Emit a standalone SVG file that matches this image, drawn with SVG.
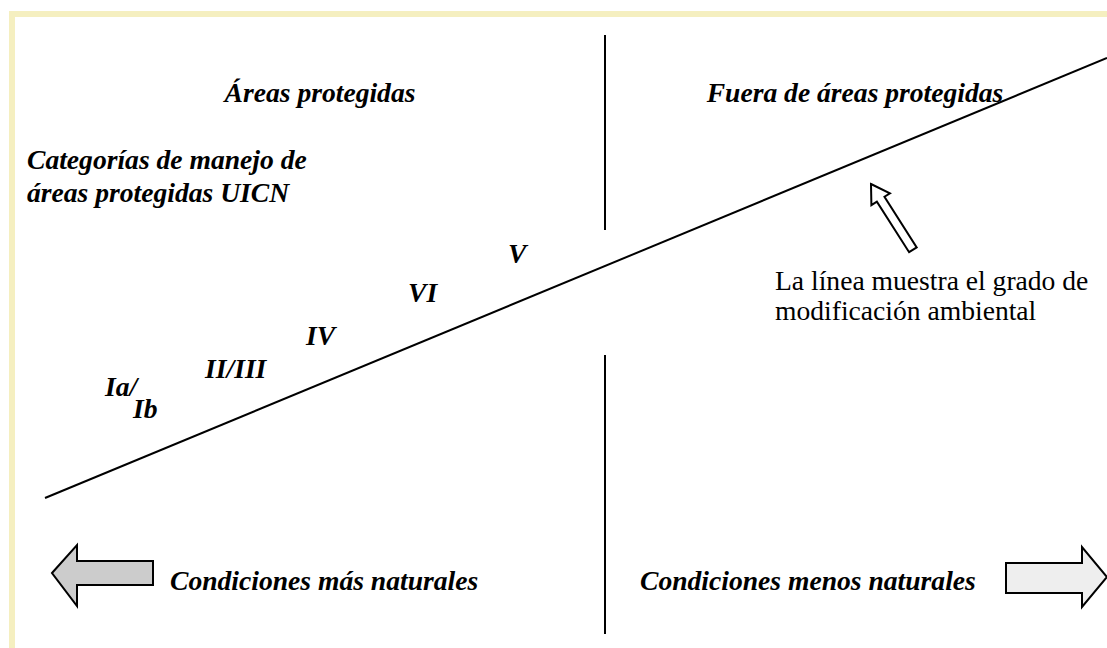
<svg xmlns="http://www.w3.org/2000/svg" width="1107" height="648" viewBox="0 0 1107 648">
<style>
.ln{stroke:#000;stroke-width:2;fill:none}
.ar{stroke:#000;stroke-width:2;stroke-linejoin:miter}
</style>
<rect x="0" y="0" width="1107" height="648" fill="#fff"/>
<g id="frame">
<rect x="9" y="11" width="1098" height="6" fill="#F5EFC0"/>
<rect x="9" y="11" width="6" height="637" fill="#F5EFC0"/>
</g>
<g id="connectors">
<line class="ln" x1="45" y1="498" x2="1107" y2="58"/>
<line class="ln" x1="605" y1="35" x2="605" y2="230"/>
<line class="ln" x1="605" y1="355" x2="605" y2="634"/>
</g>
<g font-family="Liberation Serif, Times New Roman, serif" font-size="27.6" fill="#000">
<g id="titles" font-weight="bold" font-style="italic">
<text x="320" y="102" text-anchor="middle">Áreas protegidas</text>
<text x="855" y="102" text-anchor="middle">Fuera de áreas protegidas</text>
<text x="27" y="169">Categorías de manejo de</text>
<text x="27" y="202">áreas protegidas UICN</text>
</g>
<g id="categories" font-weight="bold" font-style="italic">
<text x="508" y="263">V</text>
<text x="408" y="302">VI</text>
<text x="306" y="345">IV</text>
<text x="205" y="378">II/III</text>
<text x="105" y="396">Ia/</text>
<text x="133" y="418">Ib</text>
</g>
<g id="note">
<path class="ar" fill="#fff" transform="translate(871,184) rotate(-32.5)" d="M0,0 L11,18 L4.5,18 L4.5,78 L-4.5,78 L-4.5,18 L-11,18 Z"/>
<text x="775" y="290">La línea muestra el grado de</text>
<text x="775" y="320">modificación ambiental</text>
</g>
<g id="left-arrow">
<path class="ar" fill="#CCCCCC" d="M52,573 L77,545 L77,561 L153,561 L153,585 L77,585 L77,606 Z"/>
<text x="170" y="590" font-weight="bold" font-style="italic">Condiciones más naturales</text>
</g>
<g id="right-arrow">
<path class="ar" fill="#EEEEEE" d="M1006,563 L1082,563 L1082,547 L1107,577 L1082,607 L1082,593 L1006,593 Z"/>
<text x="640" y="590" font-weight="bold" font-style="italic">Condiciones menos naturales</text>
</g>
</g>
</svg>
